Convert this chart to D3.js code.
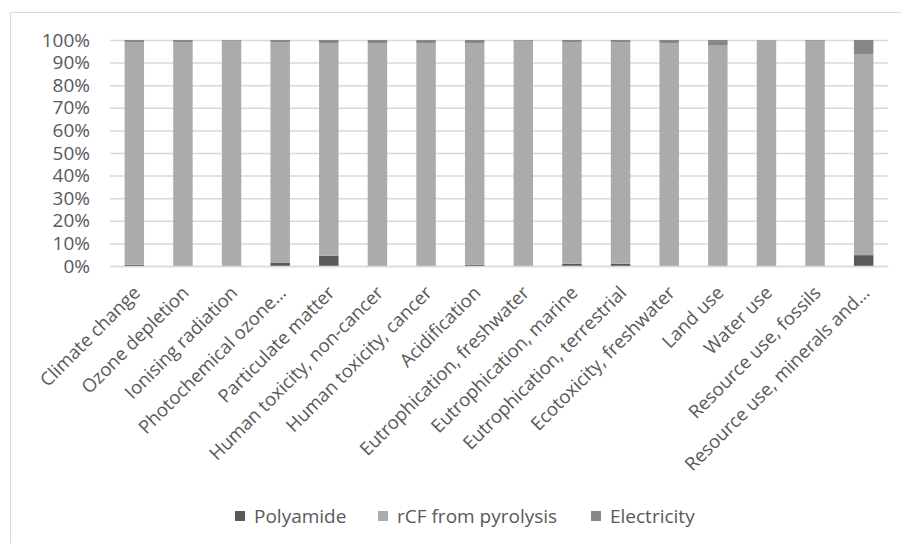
<!DOCTYPE html>
<html>
<head>
<meta charset="utf-8">
<script src="https://cdn.jsdelivr.net/npm/d3@7"></script>
<style>
  body { margin: 0; background: #fff; }
  text { font-family: "Open Sans", "Liberation Sans", sans-serif; fill: #595959; }
</style>
</head>
<body>
<svg width="901" height="543"></svg>
<script>
const categories = [
  "Climate change", "Ozone depletion", "Ionising radiation", "Photochemical ozone…",
  "Particulate matter", "Human toxicity, non-cancer", "Human toxicity, cancer",
  "Acidification", "Eutrophication, freshwater", "Eutrophication, marine",
  "Eutrophication, terrestrial", "Ecotoxicity, freshwater", "Land use", "Water use",
  "Resource use, fossils", "Resource use, minerals and…"
];
const polyamide   = [0.5, 0, 0, 1.5, 4.5, 0, 0, 0.5, 0, 1, 1, 0, 0, 0, 0, 4.8];
const electricity = [1, 1, 0.3, 1, 1.5, 1.5, 1.5, 1.5, 0.3, 1, 1, 1.5, 2.5, 0, 0.3, 6.2];
const rcf = polyamide.map((p, i) => 100 - p - electricity[i]);
const seriesNames = ["Polyamide", "rCF from pyrolysis", "Electricity"];
const seriesColors = ["#595959", "#ababab", "#878787"];
const yTicks = [0, 10, 20, 30, 40, 50, 60, 70, 80, 90, 100];

const svg = d3.select("svg");
const width = +svg.attr("width");
const height = +svg.attr("height");

// chart frame
svg.append("path")
  .attr("d", `M10.5,${height} V12.5 H${width}`)
  .attr("fill", "none")
  .attr("stroke", "#d9d9d9");

const margin = { top: 40, right: 13, bottom: 277, left: 110 };
const innerWidth = width - margin.left - margin.right;
const innerHeight = height - margin.top - margin.bottom;

const table = categories.map((c, i) => ({
  cat: c,
  "Polyamide": polyamide[i],
  "rCF from pyrolysis": rcf[i],
  "Electricity": electricity[i]
}));
const stacked = d3.stack().keys(seriesNames)(table);

const xScale = d3.scaleBand().domain(categories).range([0, innerWidth]).paddingInner(0.6).paddingOuter(0.3);
const yScale = d3.scaleLinear().domain([0, 100]).range([innerHeight, 0]);

const g = svg.append("g").attr("transform", `translate(${margin.left},${margin.top})`);

const yAxis = d3.axisLeft(yScale).tickValues(yTicks).tickSize(-innerWidth).tickPadding(20)
  .tickFormat(d => d + "%");
const yAxisG = g.append("g").call(yAxis);
yAxisG.select(".domain").remove();
yAxisG.selectAll(".tick line").attr("stroke", "#d9d9d9").attr("stroke-width", 1.5);
yAxisG.selectAll(".tick text").attr("font-size", 19).attr("fill", "#595959");

g.selectAll(".series")
  .data(stacked)
  .enter()
  .append("g")
  .attr("fill", (d, i) => seriesColors[i])
  .selectAll("rect")
  .data(d => d)
  .enter()
  .append("rect")
  .attr("x", d => xScale(d.data.cat))
  .attr("y", d => yScale(d[1]))
  .attr("width", xScale.bandwidth())
  .attr("height", d => yScale(d[0]) - yScale(d[1]));

const xAxis = d3.axisBottom(xScale).tickSize(0).tickPadding(0);
const xAxisG = g.append("g").attr("transform", `translate(0,${innerHeight})`).call(xAxis);
xAxisG.select(".domain").attr("stroke", "#d9d9d9").attr("stroke-width", 1.5);
xAxisG.selectAll(".tick text")
  .attr("font-size", 18.5)
  .attr("text-anchor", "end")
  .attr("dy", 0)
  .attr("y", 0)
  .attr("transform", "translate(7,28) rotate(-45)");

// legend
const legendX = [235, 378, 591];
const legend = svg.append("g").attr("transform", "translate(0,516)");
seriesNames.forEach((name, i) => {
  legend.append("rect")
    .attr("x", legendX[i]).attr("y", -5)
    .attr("width", 10).attr("height", 10)
    .attr("fill", seriesColors[i]);
  legend.append("text")
    .attr("x", legendX[i] + 19).attr("y", 0)
    .attr("dy", "0.35em")
    .attr("font-size", 19)
    .text(name);
});
</script>
</body>
</html>
